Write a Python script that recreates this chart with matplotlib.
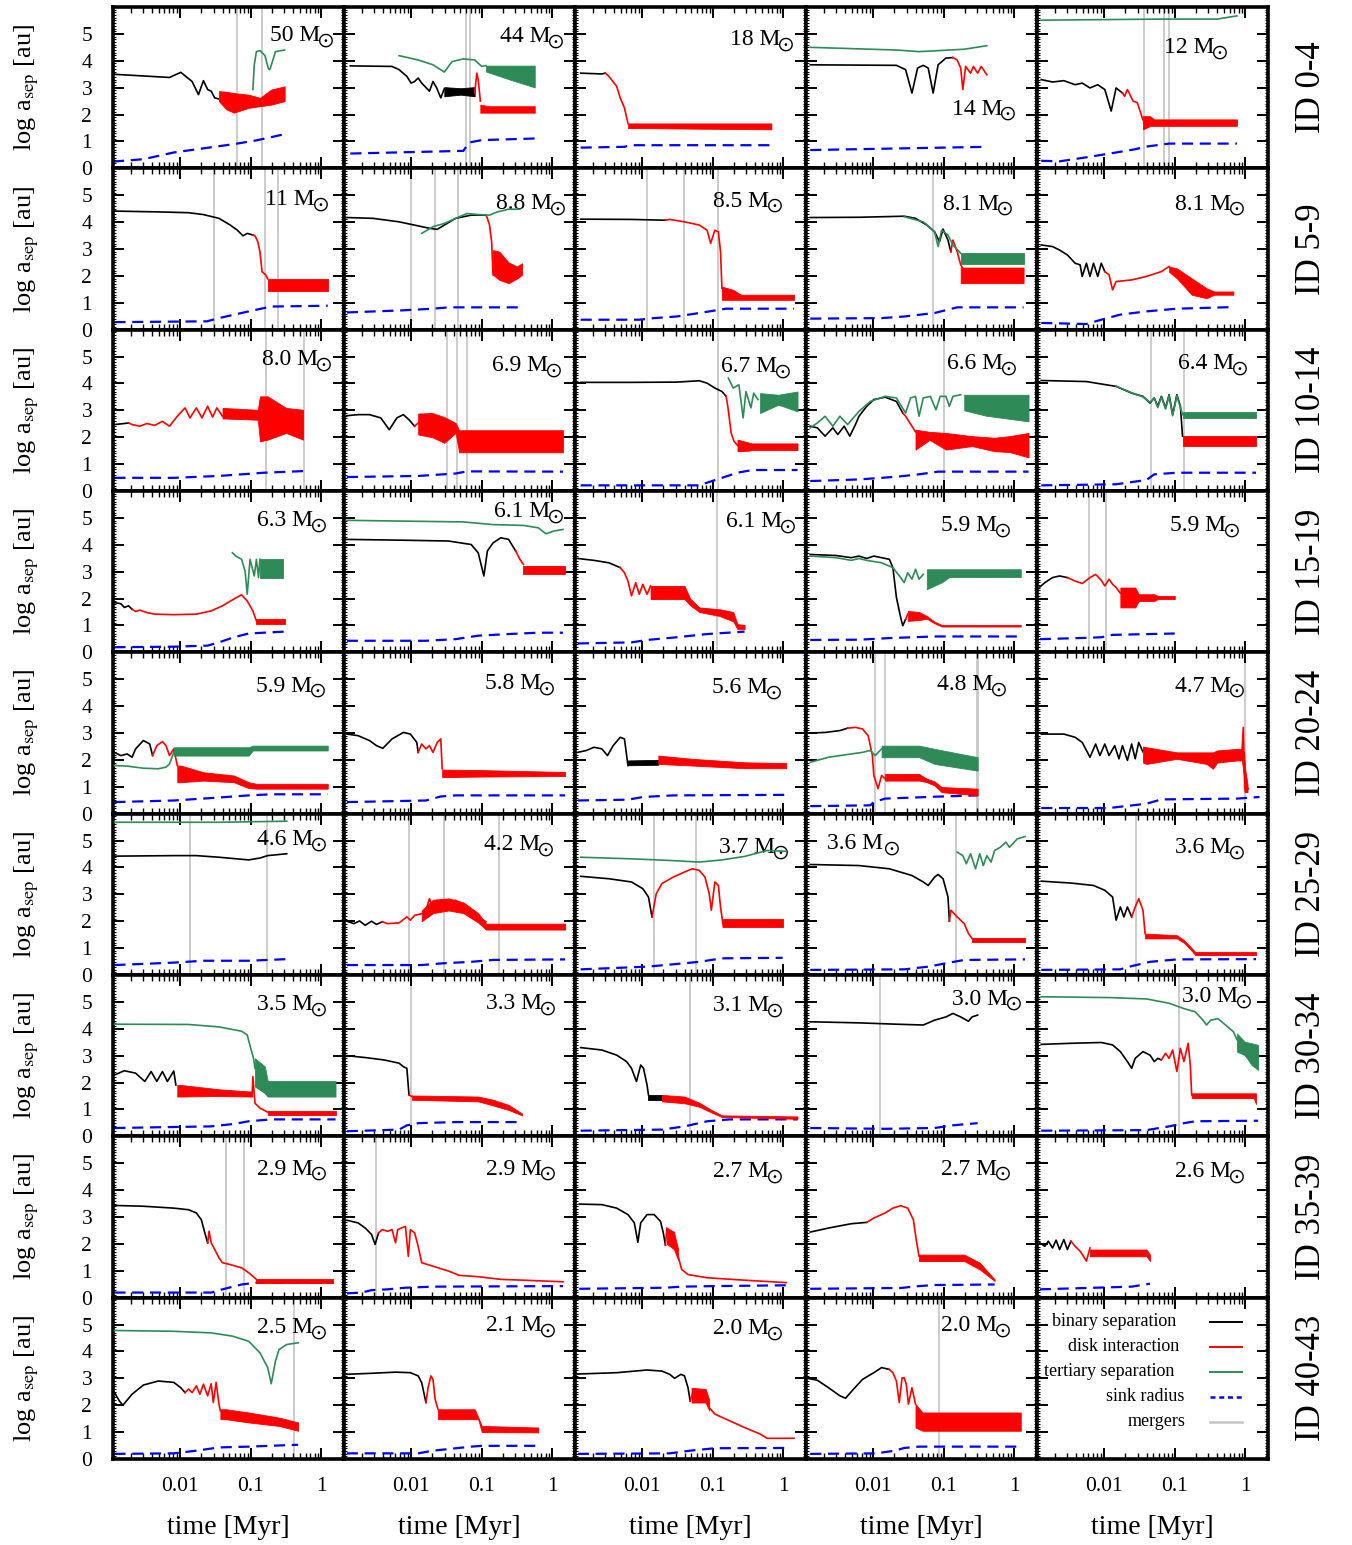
import numpy as np
import matplotlib
matplotlib.use('Agg')
import matplotlib.pyplot as plt
from matplotlib.ticker import FixedLocator, LogLocator, MultipleLocator, NullFormatter
from matplotlib.transforms import offset_copy

plt.rcParams['font.family'] = 'serif'
plt.rcParams['font.serif'] = ['Liberation Serif', 'DejaVu Serif']
plt.rcParams['mathtext.fontset'] = 'stix'

# all curves: (log10 time [Myr], log a_sep [au]); bands: (log10 time, low, high)
masses = ['50', '44', '18', '14', '12',
          '11', '8.8', '8.5', '8.1', '8.1',
          '8.0', '6.9', '6.7', '6.6', '6.4',
          '6.3', '6.1', '6.1', '5.9', '5.9',
          '5.9', '5.8', '5.6', '4.8', '4.7',
          '4.6', '4.2', '3.7', '3.6', '3.6',
          '3.5', '3.3', '3.1', '3.0', '3.0',
          '2.9', '2.9', '2.7', '2.7', '2.6',
          '2.5', '2.1', '2.0', '2.0']
row_ids = ['ID 0-4', 'ID 5-9', 'ID 10-14', 'ID 15-19', 'ID 20-24',
           'ID 25-29', 'ID 30-34', 'ID 35-39', 'ID 40-43']

binary_sep = [
    [(-2.95, 3.5), (-2.15, 3.38), (-1.99, 3.57), (-1.83, 3.23), (-1.74, 2.74), (-1.67, 3.26), (-1.61, 2.93), (-1.56, 2.87), (-1.51, 2.62), (-1.45, 2.58)],
    [(-2.86, 3.81), (-2.27, 3.79), (-2.17, 3.67), (-2.06, 3.42), (-2.0, 3.17), (-1.95, 3.23), (-1.9, 3.36), (-1.85, 3.17), (-1.74, 2.87), (-1.69, 3.23), (-1.64, 3.0), (-1.58, 2.62), (-1.53, 2.96)],
    [(-2.87, 3.54), (-2.57, 3.51), (-2.52, 3.54)],
    [(-2.89, 3.85), (-1.67, 3.83), (-1.54, 3.67), (-1.45, 2.8), (-1.37, 3.73), (-1.29, 3.83), (-1.22, 3.73), (-1.15, 2.8), (-1.08, 3.85), (-0.97, 4.1), (-0.87, 4.12)],
    [(-2.89, 3.3), (-2.73, 3.21), (-2.57, 3.26), (-2.41, 3.11), (-2.31, 3.17), (-2.2, 2.99), (-2.09, 3.11), (-1.99, 2.93), (-1.9, 2.13), (-1.83, 2.99), (-1.74, 2.8)],
    [(-2.93, 4.41), (-2.31, 4.38), (-1.88, 4.35), (-1.67, 4.28), (-1.45, 4.14), (-1.29, 3.89), (-1.19, 3.7), (-1.11, 3.49), (-1.05, 3.58), (-0.97, 3.52)],
    [(-2.91, 4.17), (-2.54, 4.14), (-2.17, 4.01), (-1.9, 3.86), (-1.74, 3.77), (-1.63, 3.73), (-1.53, 3.89), (-1.37, 4.14), (-1.15, 4.26), (-0.94, 4.26)],
    [(-2.87, 4.11), (-2.15, 4.1), (-1.67, 4.07)],
    [(-2.89, 4.17), (-2.2, 4.18), (-1.56, 4.22), (-1.4, 4.14), (-1.24, 3.89), (-1.13, 3.64), (-1.06, 3.27), (-1.01, 3.74), (-0.94, 3.33), (-0.9, 2.9)],
    [(-2.89, 3.15), (-2.73, 3.09), (-2.63, 2.96), (-2.52, 2.78), (-2.41, 2.47), (-2.34, 2.41), (-2.31, 1.98), (-2.25, 2.47), (-2.2, 1.98), (-2.15, 2.47), (-2.09, 1.98), (-2.04, 2.47), (-1.99, 2.16)],
    [(-2.93, 2.47), (-2.79, 2.51), (-2.73, 2.53)],
    [(-2.91, 2.8), (-2.75, 2.84), (-2.59, 2.84), (-2.43, 2.72), (-2.31, 2.28), (-2.2, 2.72), (-2.11, 2.84), (-2.03, 2.65), (-1.95, 2.41)],
    [(-2.87, 4.04), (-2.15, 4.04), (-1.51, 4.05), (-1.19, 4.1), (-1.08, 4.01), (-0.97, 3.83), (-0.87, 3.7), (-0.81, 3.52)],
    [(-2.89, 2.41), (-2.79, 2.35), (-2.68, 2.04), (-2.57, 2.35), (-2.5, 2.1), (-2.41, 2.41), (-2.33, 2.04), (-2.25, 2.47), (-2.2, 2.78), (-2.09, 3.15), (-1.99, 3.4), (-1.83, 3.49), (-1.67, 3.33), (-1.58, 2.9)],
    [(-2.89, 4.11), (-2.25, 4.07), (-1.83, 3.89), (-1.61, 3.64), (-1.45, 3.52), (-1.35, 3.27), (-1.29, 3.46), (-1.24, 3.15), (-1.19, 3.52), (-1.13, 3.09), (-1.08, 3.58), (-1.03, 2.84), (-0.97, 3.58), (-0.92, 3.15), (-0.89, 2.04)],
    [(-2.93, 1.85), (-2.84, 1.81), (-2.79, 1.67), (-2.73, 1.73), (-2.68, 1.6)],
    [(-2.91, 4.2), (-2.11, 4.17), (-1.47, 4.14), (-1.15, 4.01), (-1.05, 3.7), (-0.97, 2.84), (-0.92, 3.77), (-0.84, 4.07), (-0.73, 4.26), (-0.62, 4.2), (-0.52, 3.77)],
    [(-2.91, 3.49), (-2.68, 3.42), (-2.47, 3.33), (-2.31, 3.15)],
    [(-2.89, 3.64), (-2.52, 3.6), (-2.31, 3.52), (-2.2, 3.58), (-2.09, 3.49), (-1.99, 3.58), (-1.88, 3.52), (-1.77, 3.46), (-1.72, 3.15), (-1.67, 2.04), (-1.61, 1.3), (-1.58, 0.99), (-1.54, 1.23)],
    [(-2.91, 2.43), (-2.84, 2.59), (-2.73, 2.78), (-2.63, 2.84), (-2.52, 2.78)],
    [(-2.93, 2.28), (-2.84, 2.16), (-2.75, 2.22), (-2.68, 2.1), (-2.63, 2.41), (-2.52, 2.72), (-2.43, 2.59), (-2.39, 2.16)],
    [(-2.91, 2.96), (-2.75, 2.9), (-2.59, 2.72), (-2.49, 2.53), (-2.4, 2.43), (-2.27, 2.78), (-2.11, 3.02), (-2.01, 2.96), (-1.92, 2.65), (-1.9, 2.28)],
    [(-2.91, 2.28), (-2.79, 2.35), (-2.68, 2.47), (-2.57, 2.41), (-2.49, 2.16), (-2.41, 2.53), (-2.31, 2.84), (-2.25, 2.78), (-2.2, 1.79)],
    [(-2.89, 3.0), (-2.68, 3.02), (-2.47, 3.09), (-2.36, 3.18)],
    [(-2.89, 2.96), (-2.57, 2.96), (-2.41, 2.84), (-2.31, 2.65), (-2.2, 2.1), (-2.12, 2.59), (-2.06, 2.16), (-1.99, 2.59), (-1.93, 2.16), (-1.85, 2.53), (-1.79, 2.04), (-1.74, 2.53), (-1.67, 1.98), (-1.61, 2.59), (-1.56, 2.04), (-1.51, 2.65), (-1.45, 2.3)],
    [(-2.93, 4.42), (-2.09, 4.44), (-1.77, 4.44), (-1.45, 4.38), (-1.03, 4.28), (-0.87, 4.35), (-0.76, 4.44), (-0.49, 4.51)],
    [(-2.91, 2.0), (-2.81, 1.91), (-2.73, 2.01), (-2.65, 1.85), (-2.56, 2.0), (-2.49, 1.88), (-2.41, 1.98)],
    [(-2.87, 3.67), (-2.47, 3.58), (-2.15, 3.46), (-1.99, 3.21), (-1.91, 2.9), (-1.86, 2.16)],
    [(-2.89, 4.11), (-2.2, 4.07), (-1.77, 3.95), (-1.45, 3.7), (-1.29, 3.46), (-1.22, 3.33), (-1.13, 3.64), (-1.08, 3.74), (-1.01, 3.58), (-0.94, 2.9), (-0.92, 2.0)],
    [(-2.89, 3.49), (-2.47, 3.42), (-2.15, 3.33), (-1.99, 3.15), (-1.88, 2.9), (-1.83, 2.04), (-1.77, 2.53), (-1.72, 2.16), (-1.67, 2.53), (-1.61, 2.16)],
    [(-2.93, 2.28), (-2.79, 2.44), (-2.63, 2.35), (-2.5, 2.04), (-2.41, 2.41), (-2.33, 2.04), (-2.25, 2.41), (-2.18, 2.04), (-2.09, 2.43), (-2.06, 1.91)],
    [(-2.91, 3.0), (-2.65, 2.93), (-2.38, 2.84), (-2.17, 2.72), (-2.11, 2.59), (-2.06, 2.53), (-2.03, 1.54)],
    [(-2.87, 3.3), (-2.57, 3.21), (-2.36, 3.02), (-2.22, 2.78), (-2.15, 2.53), (-2.08, 2.04), (-2.02, 2.65), (-1.98, 2.53), (-1.93, 1.91), (-1.91, 1.54)],
    [(-2.89, 4.26), (-2.2, 4.22), (-1.67, 4.17), (-1.29, 4.14), (-1.13, 4.32), (-0.97, 4.44), (-0.87, 4.57), (-0.76, 4.44), (-0.65, 4.28), (-0.6, 4.44), (-0.52, 4.51)],
    [(-2.89, 3.42), (-2.47, 3.46), (-2.04, 3.49), (-1.88, 3.4), (-1.77, 3.15), (-1.67, 2.78), (-1.61, 2.53), (-1.56, 2.9), (-1.45, 3.15), (-1.35, 3.02), (-1.29, 2.78), (-1.24, 2.9), (-1.19, 2.84)],
    [(-2.93, 3.43), (-2.52, 3.4), (-2.09, 3.33), (-1.88, 3.27), (-1.77, 3.15), (-1.7, 2.9), (-1.65, 2.41), (-1.61, 2.04)],
    [(-2.91, 2.88), (-2.75, 2.78), (-2.65, 2.59), (-2.56, 2.35), (-2.51, 1.98), (-2.46, 2.41)],
    [(-2.89, 3.48), (-2.57, 3.46), (-2.36, 3.33), (-2.2, 3.09), (-2.11, 2.78), (-2.06, 2.06), (-2.02, 2.78), (-1.93, 3.09), (-1.83, 3.09), (-1.74, 2.84), (-1.7, 2.41), (-1.67, 1.95)],
    [(-2.89, 2.44), (-2.63, 2.59), (-2.31, 2.75), (-2.09, 2.8)],
    [(-2.91, 2.04), (-2.84, 1.91), (-2.79, 2.1), (-2.73, 1.85), (-2.68, 2.14), (-2.63, 1.79), (-2.57, 2.16), (-2.52, 1.79), (-2.47, 2.1)],
    [(-2.93, 2.47), (-2.86, 2.16), (-2.81, 2.0), (-2.68, 2.41), (-2.52, 2.75), (-2.31, 2.9), (-2.09, 2.85), (-1.99, 2.65), (-1.93, 2.47)],
    [(-2.91, 3.15), (-2.54, 3.19), (-2.22, 3.23), (-2.01, 3.21), (-1.9, 3.09), (-1.85, 2.84), (-1.79, 2.1)],
    [(-2.91, 3.16), (-2.36, 3.21), (-1.93, 3.31), (-1.72, 3.27), (-1.61, 3.15), (-1.54, 3.0), (-1.45, 3.15), (-1.4, 3.09), (-1.35, 2.65), (-1.32, 2.16)],
    [(-2.93, 3.0), (-2.79, 2.93), (-2.63, 2.65), (-2.47, 2.35), (-2.39, 2.26), (-2.28, 2.59), (-2.15, 2.96), (-1.99, 3.21), (-1.88, 3.4), (-1.77, 3.33)],
]

binary_band = {
    1: [[(-1.53, 2.68, 3.02), (-1.3, 2.74, 2.98), (-1.10, 2.68, 3.02)]],
    22: [[(-2.2, 1.8, 1.98), (-1.77, 1.82, 2.0)]],
    32: [[(-1.91, 1.34, 1.52), (-1.72, 1.34, 1.52)]],
}

disk_sep = {
    1: [(-1.10, 2.8), (-1.07, 3.54), (-1.05, 3.3), (-1.02, 2.5)],
    2: [(-2.52, 3.54), (-2.47, 3.42), (-2.36, 3.05), (-2.31, 2.62), (-2.25, 2.25), (-2.2, 1.67)],
    3: [(-0.87, 4.12), (-0.81, 4.03), (-0.76, 3.73), (-0.73, 2.93), (-0.69, 3.79), (-0.62, 3.54), (-0.58, 3.79), (-0.52, 3.54), (-0.47, 3.79), (-0.39, 3.48)],
    4: [(-1.74, 2.8), (-1.71, 2.68), (-1.67, 2.93), (-1.59, 2.5), (-1.53, 2.44), (-1.45, 1.8)],
    5: [(-0.97, 3.52), (-0.94, 3.49), (-0.9, 3.27), (-0.87, 2.9), (-0.84, 2.16), (-0.79, 2.04), (-0.76, 1.89)],
    6: [(-0.94, 4.26), (-0.92, 4.14), (-0.89, 3.89), (-0.86, 3.27), (-0.84, 2.04)],
    7: [(-1.67, 4.07), (-1.61, 4.1), (-1.4, 4.01), (-1.19, 3.89), (-1.08, 3.7), (-1.03, 3.21), (-0.97, 3.7), (-0.92, 3.64), (-0.89, 2.9), (-0.87, 1.54)],
    8: [(-0.9, 2.9), (-0.87, 3.33), (-0.81, 2.9), (-0.76, 2.41)],
    9: [(-1.99, 2.16), (-1.93, 2.04), (-1.88, 1.48), (-1.83, 1.79), (-1.61, 1.85), (-1.4, 1.98), (-1.19, 2.16), (-1.08, 2.35)],
    10: [(-2.73, 2.53), (-2.68, 2.47), (-2.57, 2.41), (-2.47, 2.51), (-2.36, 2.44), (-2.25, 2.59), (-2.15, 2.41), (-2.04, 2.78), (-1.93, 3.09), (-1.86, 2.72), (-1.77, 3.09), (-1.69, 2.72), (-1.61, 3.15), (-1.54, 2.75), (-1.48, 3.09), (-1.4, 2.78)],
    11: [(-1.95, 2.41), (-1.9, 2.53)],
    12: [(-0.81, 3.52), (-0.78, 3.02), (-0.74, 2.16), (-0.7, 1.85), (-0.65, 1.7)],
    13: [(-1.58, 2.9), (-1.54, 2.78), (-1.45, 2.41), (-1.4, 2.2)],
    15: [(-2.68, 1.6), (-2.63, 1.52), (-2.57, 1.57), (-2.47, 1.48), (-2.36, 1.42), (-2.09, 1.4), (-1.77, 1.42), (-1.56, 1.54), (-1.4, 1.73), (-1.24, 1.98), (-1.13, 2.14), (-1.05, 1.91), (-0.97, 1.54), (-0.92, 1.17)],
    16: [(-0.52, 3.77), (-0.46, 3.46), (-0.41, 3.27)],
    17: [(-2.31, 3.15), (-2.25, 2.96), (-2.2, 2.65), (-2.15, 2.1), (-2.09, 2.59), (-2.04, 2.16), (-1.99, 2.53), (-1.93, 2.16), (-1.88, 2.47)],
    18: [(-1.54, 1.23), (-1.51, 1.42)],
    19: [(-2.52, 2.78), (-2.41, 2.65), (-2.31, 2.56), (-2.2, 2.78), (-2.12, 2.9), (-2.04, 2.68), (-1.99, 2.47), (-1.93, 2.72), (-1.88, 2.53), (-1.83, 2.41), (-1.77, 2.2)],
    20: [(-2.39, 2.16), (-2.33, 2.53), (-2.25, 2.68), (-2.2, 2.53), (-2.15, 2.16), (-2.09, 2.41), (-2.04, 1.79)],
    21: [(-1.9, 2.28), (-1.85, 2.59), (-1.79, 2.41), (-1.74, 2.53), (-1.69, 2.28), (-1.63, 2.65), (-1.58, 2.78), (-1.56, 1.67)],
    23: [(-2.36, 3.18), (-2.25, 3.21), (-2.15, 3.15), (-2.07, 2.9), (-2.01, 2.16), (-1.99, 1.42), (-1.93, 0.93), (-1.88, 1.42), (-1.83, 1.3)],
    24: [(-0.05, 2.2), (-0.03, 3.21), (-0.02, 2.0), (-0.01, 1.0), (0.0, 0.8), (0.04, 0.93)],
    26: [(-2.41, 1.98), (-2.33, 1.91), (-2.17, 1.94), (-2.06, 2.16), (-2.01, 2.04), (-1.95, 2.22), (-1.85, 2.28), (-1.79, 2.41), (-1.74, 2.84), (-1.69, 2.47), (-1.63, 2.65), (-1.58, 2.72), (-1.47, 2.72), (-1.37, 2.78), (-1.26, 2.59), (-1.15, 2.41), (-1.05, 2.16), (-0.94, 1.98)],
    27: [(-1.86, 2.16), (-1.8, 3.02), (-1.72, 3.4), (-1.56, 3.64), (-1.4, 3.83), (-1.29, 3.95), (-1.19, 3.89), (-1.11, 3.64), (-1.05, 3.02), (-1.02, 2.41), (-0.97, 3.46), (-0.92, 3.33), (-0.89, 2.53), (-0.85, 1.79)],
    28: [(-0.92, 2.0), (-0.9, 2.41), (-0.81, 2.16), (-0.71, 1.91), (-0.65, 1.54), (-0.6, 1.36)],
    29: [(-1.61, 2.16), (-1.56, 2.53), (-1.51, 2.84), (-1.45, 2.41), (-1.42, 1.54)],
    30: [(-0.98, 1.55), (-0.97, 2.22), (-0.94, 1.23), (-0.87, 1.05), (-0.76, 0.9)],
    31: [(-2.03, 1.54), (-1.99, 1.48)],
    34: [(-1.19, 2.84), (-1.13, 3.09), (-1.08, 2.9), (-1.03, 3.21), (-0.97, 2.41), (-0.92, 3.27), (-0.87, 2.78), (-0.81, 3.46), (-0.78, 2.65), (-0.76, 1.54)],
    35: [(-1.61, 2.04), (-1.59, 2.47), (-1.56, 2.04), (-1.51, 1.79), (-1.45, 1.48), (-1.4, 1.3), (-1.29, 1.23), (-1.13, 1.11), (-1.03, 0.93), (-0.92, 0.68)],
    36: [(-2.46, 2.41), (-2.41, 2.53), (-2.33, 2.47), (-2.27, 2.53), (-2.22, 2.04), (-2.19, 2.53), (-2.14, 2.59), (-2.08, 2.65), (-2.04, 1.54), (-2.01, 2.53), (-1.95, 2.41), (-1.9, 1.91), (-1.85, 1.3), (-1.69, 1.17), (-1.47, 0.99), (-1.32, 0.83), (-1.05, 0.78), (-0.73, 0.68), (-0.41, 0.65), (0.15, 0.59)],
    37: [(-1.67, 1.95), (-1.65, 2.59), (-1.59, 2.41), (-1.53, 2.04), (-1.49, 1.54), (-1.44, 1.05), (-1.35, 0.86), (-1.08, 0.74), (-0.55, 0.65), (0.04, 0.56)],
    38: [(-2.09, 2.8), (-1.99, 2.96), (-1.83, 3.15), (-1.72, 3.33), (-1.61, 3.42), (-1.51, 3.33), (-1.43, 2.9), (-1.39, 2.16), (-1.35, 1.54)],
    39: [(-2.47, 2.1), (-2.41, 1.91), (-2.34, 1.73), (-2.25, 1.36), (-2.2, 1.85)],
    40: [(-1.93, 2.47), (-1.88, 2.6), (-1.83, 2.47), (-1.77, 2.72), (-1.72, 2.41), (-1.67, 2.78), (-1.61, 2.35), (-1.56, 2.8), (-1.53, 2.1), (-1.49, 2.85), (-1.45, 2.04), (-1.43, 1.79)],
    41: [(-1.79, 2.1), (-1.76, 2.65), (-1.72, 3.09), (-1.69, 2.96), (-1.66, 2.22), (-1.62, 1.85)],
    42: [(-1.32, 2.16), (-1.27, 2.59), (-1.19, 2.47), (-1.08, 2.35), (-1.05, 1.91), (-0.97, 1.67), (-0.76, 1.42), (-0.55, 1.17), (-0.33, 0.93), (-0.23, 0.77), (0.15, 0.77)],
    43: [(-1.77, 3.33), (-1.72, 3.21), (-1.67, 2.9), (-1.63, 2.1), (-1.59, 3.02), (-1.56, 3.02), (-1.53, 2.78), (-1.5, 2.04), (-1.45, 2.65), (-1.4, 2.04)],
}

disk_band = {
    0: [[(-1.45, 2.5, 2.87), (-1.35, 2.2, 2.85), (-1.24, 2.07, 2.8), (-1.03, 2.25, 2.74), (-0.87, 2.31, 2.62), (-0.71, 2.37, 2.93), (-0.52, 2.5, 3.05)]],
    1: [[(-1.02, 2.07, 2.37), (-0.9, 2.07, 2.31), (-0.25, 2.07, 2.31)]],
    2: [[(-2.2, 1.5, 1.67), (-0.17, 1.45, 1.67)]],
    4: [[(-1.45, 1.45, 1.94), (-1.35, 1.57, 1.94), (-1.29, 1.58, 1.82), (-0.12, 1.58, 1.82)]],
    5: [[(-0.76, 1.44, 1.89), (0.09, 1.44, 1.89)]],
    6: [[(-0.84, 2.04, 2.96), (-0.75, 1.85, 2.9), (-0.62, 1.73, 2.5), (-0.5, 1.9, 2.35), (-0.43, 2.04, 2.47)]],
    7: [[(-0.87, 1.11, 1.6), (-0.71, 1.11, 1.48), (-0.6, 1.11, 1.3), (0.15, 1.11, 1.3)]],
    8: [[(-0.76, 1.73, 2.41), (-0.73, 1.73, 2.31), (0.13, 1.73, 2.31)]],
    9: [[(-1.08, 2.15, 2.35), (-0.97, 1.91, 2.28), (-0.76, 1.3, 1.91), (-0.55, 1.17, 1.54), (-0.44, 1.3, 1.42), (-0.17, 1.3, 1.42)]],
    10: [[(-1.4, 2.7, 3.09), (-0.9, 2.65, 3.02), (-0.87, 1.85, 3.52), (-0.76, 1.91, 3.52), (-0.5, 2.16, 3.09), (-0.26, 1.91, 3.02)]],
    11: [[(-1.9, 2.1, 2.88), (-1.7, 2.0, 2.9), (-1.53, 1.79, 2.75), (-1.37, 2.16, 2.53), (-1.32, 1.44, 2.26), (0.15, 1.44, 2.26)]],
    12: [[(-0.65, 1.48, 1.91), (-0.49, 1.5, 1.8), (-0.44, 1.52, 1.77), (0.2, 1.52, 1.77)]],
    13: [[(-1.4, 1.54, 2.28), (-1.2, 1.9, 2.2), (-0.97, 1.54, 2.16), (-0.6, 1.67, 2.04), (-0.28, 1.48, 1.98), (-0.07, 1.45, 2.04), (0.2, 1.25, 2.16)]],
    14: [[(-0.89, 1.67, 2.04), (0.15, 1.67, 2.04)]],
    15: [[(-0.92, 1.05, 1.23), (-0.52, 1.05, 1.23)]],
    16: [[(-0.41, 2.93, 3.21), (0.18, 2.93, 3.21)]],
    17: [[(-1.88, 1.98, 2.47), (-1.4, 1.98, 2.47), (-1.32, 1.75, 2.0), (-1.19, 1.5, 1.67), (-0.9, 1.35, 1.6), (-0.71, 1.15, 1.5), (-0.65, 0.86, 1.05), (-0.55, 0.86, 1.02)]],
    18: [[(-1.51, 1.17, 1.54), (-1.35, 1.2, 1.5), (-1.24, 1.25, 1.35), (-1.13, 1.08, 1.14), (-1.03, 0.96, 1.02), (0.09, 0.96, 1.02)]],
    19: [[(-1.77, 1.67, 2.41), (-1.56, 1.67, 2.41), (-1.51, 1.91, 2.16), (-1.29, 1.91, 2.16), (-1.24, 1.98, 2.1), (-1.0, 1.98, 2.1)]],
    20: [[(-2.04, 1.17, 1.79), (-1.99, 1.17, 1.79), (-1.67, 1.23, 1.54), (-1.24, 1.17, 1.42), (-1.03, 0.95, 1.17), (-0.92, 0.93, 1.11), (0.09, 0.93, 1.11)]],
    21: [[(-1.56, 1.36, 1.64), (-1.0, 1.38, 1.62), (0.18, 1.4, 1.55)]],
    22: [[(-1.77, 1.85, 2.16), (-1.29, 1.79, 2.04), (-0.55, 1.69, 1.91), (0.04, 1.69, 1.88)]],
    23: [[(-1.83, 1.23, 1.48), (-1.35, 1.23, 1.48), (-1.24, 1.17, 1.3), (-1.13, 1.05, 1.2), (-1.03, 0.8, 0.99), (-0.52, 0.68, 0.93)]],
    24: [[(-1.45, 1.9, 2.5), (-1.4, 1.85, 2.47), (-0.97, 2.04, 2.28), (-0.55, 1.85, 2.28), (-0.46, 1.67, 2.28), (-0.4, 1.9, 2.35), (-0.12, 1.98, 2.41), (-0.05, 1.98, 2.41), (-0.02, 1.4, 2.3), (0.0, 0.8, 1.6), (0.03, 0.8, 1.1)]],
    26: [[(-1.85, 2.0, 2.4), (-1.69, 2.3, 2.8), (-1.47, 2.4, 2.85), (-1.26, 2.3, 2.7), (-1.05, 1.95, 2.3), (-0.94, 1.69, 1.91), (0.18, 1.69, 1.91)]],
    27: [[(-0.85, 1.79, 2.1), (-0.01, 1.79, 2.1)]],
    28: [[(-0.6, 1.23, 1.36), (0.15, 1.23, 1.36)]],
    29: [[(-1.42, 1.36, 1.54), (-0.97, 1.36, 1.48), (-0.87, 1.2, 1.3), (-0.76, 0.9, 1.0), (-0.71, 0.74, 0.86), (0.15, 0.74, 0.86)]],
    30: [[(-2.04, 1.48, 1.91), (-1.99, 1.48, 1.91), (-1.45, 1.5, 1.75), (-1.03, 1.48, 1.67), (-0.98, 1.48, 1.67)],
         [(-0.76, 0.78, 0.95), (0.2, 0.78, 0.95)]],
    31: [[(-1.99, 1.36, 1.52), (-1.05, 1.3, 1.48), (-0.84, 1.15, 1.36), (-0.62, 0.98, 1.17), (-0.43, 0.78, 0.85)]],
    32: [[(-1.72, 1.3, 1.54), (-1.4, 1.23, 1.48), (-1.19, 1.1, 1.25), (-1.03, 0.9, 1.0), (-0.87, 0.72, 0.78), (0.2, 0.65, 0.74)]],
    34: [[(-0.76, 1.42, 1.6), (0.12, 1.42, 1.6), (0.15, 1.2, 1.6)]],
    35: [[(-0.92, 0.56, 0.68), (0.17, 0.56, 0.68)]],
    37: [[(-1.65, 2.0, 2.6), (-1.55, 1.8, 2.45), (-1.49, 1.4, 1.8)]],
    38: [[(-1.35, 1.36, 1.6), (-0.71, 1.36, 1.6), (-0.49, 1.05, 1.3), (-0.28, 0.62, 0.68)]],
    39: [[(-2.2, 1.54, 1.79), (-1.4, 1.54, 1.79), (-1.35, 1.36, 1.6)]],
    40: [[(-1.43, 1.48, 1.85), (-1.35, 1.48, 1.85), (-1.03, 1.36, 1.73), (-0.6, 1.23, 1.54), (-0.33, 1.05, 1.36)]],
    41: [[(-1.62, 1.48, 1.85), (-1.1, 1.48, 1.85), (-1.05, 1.48, 1.55), (-1.0, 1.0, 1.23), (-0.2, 0.99, 1.17)]],
    42: [[(-1.3, 2.1, 2.65), (-1.1, 2.1, 2.6), (-1.05, 1.8, 2.2)]],
    43: [[(-1.4, 1.17, 2.04), (-1.3, 1.05, 1.73), (0.09, 1.05, 1.73)]],
}

tertiary_sep = {
    0: [(-0.97, 2.93), (-0.95, 3.85), (-0.92, 4.34), (-0.87, 4.38), (-0.8, 4.2), (-0.75, 3.7), (-0.73, 3.67), (-0.69, 4.0), (-0.65, 4.34), (-0.52, 4.4)],
    1: [(-2.17, 4.19), (-1.9, 4.03), (-1.69, 3.85), (-1.53, 3.58), (-1.42, 3.97), (-1.26, 4.07), (-1.10, 4.03), (-1.0, 3.79), (-0.94, 3.82)],
    3: [(-2.89, 4.5), (-1.67, 4.4), (-1.35, 4.34), (-1.13, 4.37), (-0.71, 4.43), (-0.39, 4.56)],
    4: [(-2.89, 5.51), (-1.2, 5.55), (-0.4, 5.55), (-0.12, 5.67)],
    6: [(-1.85, 3.58), (-1.69, 3.83), (-1.53, 3.95), (-1.37, 4.14), (-1.21, 4.32), (-1.05, 4.28), (-0.89, 4.26), (-0.78, 4.38), (-0.62, 4.48), (-0.46, 4.48)],
    8: [(-1.56, 4.2), (-1.29, 4.01), (-1.13, 3.64), (-1.08, 3.09), (-1.03, 3.7), (-0.94, 3.52), (-0.87, 3.15), (-0.76, 2.84)],
    12: [(-0.78, 4.2), (-0.71, 3.83), (-0.63, 3.95), (-0.57, 2.72), (-0.53, 3.7), (-0.46, 3.09), (-0.42, 3.64), (-0.36, 3.4)],
    13: [(-2.89, 2.35), (-2.79, 2.53), (-2.68, 2.78), (-2.57, 2.41), (-2.47, 2.78), (-2.36, 2.47), (-2.28, 2.72), (-2.2, 2.96), (-2.04, 3.33), (-1.83, 3.52), (-1.67, 3.46), (-1.54, 2.9), (-1.47, 3.46), (-1.4, 3.52), (-1.35, 2.78), (-1.29, 3.46), (-1.19, 3.52), (-1.11, 3.02), (-1.05, 3.52), (-0.97, 3.52), (-0.92, 3.15), (-0.87, 3.52), (-0.76, 3.58)],
    14: [(-1.83, 3.9), (-1.61, 3.65), (-1.45, 3.5), (-1.35, 3.3), (-1.29, 3.45), (-1.24, 3.1), (-1.19, 3.5), (-1.13, 3.05), (-1.08, 3.55), (-1.03, 2.8), (-0.97, 3.55), (-0.92, 3.1), (-0.89, 2.84)],
    15: [(-1.26, 3.7), (-1.21, 3.58), (-1.13, 3.46), (-1.08, 3.02), (-1.05, 2.16), (-1.01, 3.46), (-0.95, 2.84), (-0.92, 3.46), (-0.89, 2.78), (-0.87, 3.46)],
    16: [(-2.91, 4.91), (-2.11, 4.88), (-1.26, 4.85), (-0.84, 4.75), (-0.41, 4.72), (-0.2, 4.63), (-0.09, 4.41), (0.02, 4.51), (0.15, 4.57)],
    18: [(-2.89, 3.58), (-2.52, 3.52), (-2.31, 3.42), (-2.2, 3.49), (-2.09, 3.42), (-1.88, 3.33), (-1.72, 3.15), (-1.61, 2.78), (-1.56, 2.59), (-1.51, 2.96), (-1.45, 2.72), (-1.4, 3.09), (-1.35, 2.72), (-1.29, 2.9)],
    20: [(-2.93, 1.79), (-2.75, 1.77), (-2.52, 1.69), (-2.31, 1.67), (-2.2, 1.73), (-2.15, 1.85), (-2.09, 2.28)],
    23: [(-2.89, 1.91), (-2.63, 2.1), (-2.31, 2.22), (-2.15, 2.28), (-2.04, 2.35), (-1.97, 2.16), (-1.88, 2.41)],
    25: [(-2.93, 5.68), (-1.45, 5.68), (-0.49, 5.72)],
    27: [(-2.87, 4.38), (-2.15, 4.32), (-1.61, 4.26), (-1.19, 4.2), (-0.87, 4.28), (-0.55, 4.41), (-0.23, 4.63), (0.04, 4.6)],
    28: [(-0.81, 4.57), (-0.73, 4.44), (-0.68, 4.14), (-0.62, 4.51), (-0.55, 3.95), (-0.49, 4.51), (-0.44, 4.07), (-0.39, 4.44), (-0.33, 4.2), (-0.28, 4.63), (-0.2, 4.75), (-0.12, 4.94), (-0.07, 4.75), (0.04, 5.06), (0.15, 5.15)],
    30: [(-2.93, 4.17), (-1.88, 4.16), (-1.45, 4.07), (-1.13, 3.91), (-1.05, 3.77), (-1.0, 3.27), (-0.96, 2.9), (-0.94, 2.53)],
    34: [(-2.89, 5.19), (-1.93, 5.16), (-1.4, 5.11), (-1.08, 4.95), (-0.87, 4.75), (-0.71, 4.63), (-0.6, 4.32), (-0.55, 4.14), (-0.49, 4.32), (-0.39, 4.38), (-0.28, 4.14), (-0.17, 3.89), (-0.12, 3.6)],
    40: [(-2.93, 4.78), (-2.09, 4.75), (-1.56, 4.69), (-1.26, 4.57), (-1.03, 4.38), (-0.87, 3.95), (-0.76, 3.4), (-0.71, 2.8), (-0.65, 3.64), (-0.6, 4.07), (-0.49, 4.26), (-0.33, 4.32)],
}

tertiary_band = {
    1: [[(-0.94, 3.6, 3.82), (-0.6, 3.3, 3.82), (-0.25, 3.01, 3.82)]],
    8: [[(-0.76, 2.43, 2.84), (0.13, 2.43, 2.84)]],
    12: [[(-0.33, 2.9, 3.64), (-0.07, 3.21, 3.58), (0.2, 2.96, 3.7)]],
    13: [[(-0.71, 3.0, 3.58), (-0.4, 2.8, 3.58), (0.2, 2.59, 3.58)]],
    14: [[(-0.89, 2.72, 2.93), (0.15, 2.72, 2.93)]],
    15: [[(-0.87, 2.78, 3.46), (-0.55, 2.78, 3.46)]],
    18: [[(-1.24, 2.35, 3.09), (-1.03, 2.6, 3.09), (-0.92, 2.8, 3.09), (0.09, 2.8, 3.09)]],
    20: [[(-2.09, 2.16, 2.47), (-1.03, 2.16, 2.47), (-0.97, 2.35, 2.53), (0.09, 2.35, 2.53)]],
    23: [[(-1.88, 2.1, 2.53), (-1.35, 2.1, 2.53), (-1.13, 1.85, 2.41), (-0.52, 1.6, 2.1)]],
    30: [[(-0.94, 1.85, 2.9), (-0.8, 1.6, 2.6), (-0.76, 1.48, 2.06), (0.2, 1.48, 2.06)]],
    34: [[(-0.12, 3.15, 3.83), (-0.01, 3.02, 3.52), (0.09, 2.65, 3.46), (0.18, 2.47, 3.4)]],
}

sink_radius = [
    [(-2.95, 0.25), (-2.52, 0.34), (-2.09, 0.59), (-1.24, 0.9), (-0.92, 1.04), (-0.52, 1.27)],
    [(-2.86, 0.55), (-1.26, 0.65), (-1.18, 0.96), (-1.0, 1.05), (-0.25, 1.11)],
    [(-2.87, 0.77), (-2.25, 0.8), (-2.17, 0.86), (-0.17, 0.86)],
    [(-2.89, 0.68), (-0.39, 0.8)],
    [(-2.89, 0.28), (-2.63, 0.26), (-2.25, 0.41), (-1.83, 0.59), (-1.56, 0.71), (-1.4, 0.81), (-1.08, 0.92), (-0.12, 0.92)],
    [(-2.93, 0.28), (-1.62, 0.31), (-1.45, 0.43), (-1.03, 0.68), (-0.71, 0.86), (0.09, 0.89)],
    [(-2.91, 0.64), (-2.11, 0.72), (-1.69, 0.78), (-1.47, 0.83), (-0.46, 0.83)],
    [(-2.87, 0.37), (-2.04, 0.37), (-1.83, 0.43), (-1.51, 0.49), (-1.19, 0.62), (-0.81, 0.78), (0.15, 0.78)],
    [(-2.89, 0.41), (-1.88, 0.43), (-1.56, 0.49), (-1.13, 0.62), (-0.81, 0.83), (0.13, 0.83)],
    [(-2.89, 0.25), (-2.25, 0.21), (-2.04, 0.37), (-1.77, 0.56), (-1.4, 0.68), (-0.97, 0.78), (-0.17, 0.84)],
    [(-2.93, 0.49), (-2.09, 0.49), (-1.45, 0.56), (-0.81, 0.68), (-0.26, 0.74)],
    [(-2.91, 0.52), (-1.9, 0.56), (-1.37, 0.65), (-1.21, 0.73), (0.15, 0.72)],
    [(-2.87, 0.21), (-1.19, 0.21), (-1.08, 0.31), (-0.87, 0.49), (-0.65, 0.68), (-0.44, 0.78), (0.2, 0.78)],
    [(-2.89, 0.37), (-2.2, 0.43), (-1.67, 0.53), (-1.35, 0.62), (-1.08, 0.72), (0.2, 0.72)],
    [(-2.89, 0.21), (-1.83, 0.25), (-1.4, 0.41), (-1.29, 0.62), (-0.97, 0.68), (0.15, 0.68)],
    [(-2.93, 0.19), (-2.09, 0.21), (-1.61, 0.25), (-1.45, 0.37), (-1.24, 0.56), (-1.03, 0.7), (-0.52, 0.77)],
    [(-2.91, 0.43), (-1.79, 0.43), (-1.37, 0.49), (-1.05, 0.62), (-0.62, 0.68), (-0.2, 0.73), (0.15, 0.73)],
    [(-2.91, 0.33), (-2.15, 0.37), (-1.93, 0.46), (-1.51, 0.56), (-1.08, 0.68), (-0.55, 0.77)],
    [(-2.89, 0.46), (-2.2, 0.47), (-1.77, 0.53), (-1.13, 0.59), (0.09, 0.59)],
    [(-2.91, 0.49), (-2.36, 0.53), (-2.04, 0.56), (-1.88, 0.65), (-1.0, 0.7)],
    [(-2.93, 0.43), (-2.09, 0.49), (-1.56, 0.58), (-1.03, 0.68), (-0.71, 0.72), (0.09, 0.72)],
    [(-2.91, 0.43), (-1.79, 0.49), (-1.58, 0.64), (-1.37, 0.68), (0.18, 0.68)],
    [(-2.91, 0.49), (-2.2, 0.52), (-1.99, 0.62), (-1.56, 0.68), (0.04, 0.7)],
    [(-2.89, 0.28), (-2.04, 0.31), (-1.99, 0.43), (-1.83, 0.56), (-1.13, 0.63), (-0.52, 0.68)],
    [(-2.89, 0.21), (-1.93, 0.21), (-1.4, 0.37), (-1.19, 0.53), (-0.12, 0.56), (0.2, 0.62)],
    [(-2.93, 0.37), (-2.09, 0.46), (-1.67, 0.53), (-1.03, 0.53), (-0.49, 0.59)],
    [(-2.91, 0.37), (-1.85, 0.37), (-1.58, 0.43), (-1.15, 0.49), (-0.84, 0.56), (0.18, 0.58)],
    [(-2.87, 0.21), (-1.93, 0.31), (-1.51, 0.41), (-1.19, 0.49), (-0.87, 0.62), (-0.01, 0.64)],
    [(-2.89, 0.19), (-1.56, 0.21), (-1.22, 0.31), (-0.92, 0.46), (-0.71, 0.56), (0.15, 0.58)],
    [(-2.89, 0.19), (-1.77, 0.21), (-1.61, 0.33), (-1.35, 0.49), (-0.97, 0.58), (0.15, 0.59)],
    [(-2.93, 0.31), (-1.56, 0.37), (-1.24, 0.46), (-1.03, 0.56), (-0.71, 0.63), (0.2, 0.63)],
    [(-2.91, 0.19), (-2.17, 0.25), (-2.06, 0.41), (-1.9, 0.49), (-1.37, 0.53), (-0.43, 0.53)],
    [(-2.87, 0.21), (-1.72, 0.25), (-1.4, 0.37), (-1.08, 0.56), (-0.76, 0.63), (0.2, 0.63)],
    [(-2.89, 0.31), (-1.83, 0.28), (-1.13, 0.31), (-0.87, 0.41), (-0.52, 0.49)],
    [(-2.89, 0.21), (-1.4, 0.23), (-1.08, 0.37), (-0.87, 0.49), (-0.71, 0.56), (0.18, 0.58)],
    [(-2.93, 0.19), (-1.56, 0.19), (-1.4, 0.31), (-1.13, 0.49), (-0.92, 0.56), (0.17, 0.56)],
    [(-2.91, 0.16), (-2.7, 0.19), (-2.56, 0.28), (-2.33, 0.31), (-2.08, 0.37), (-1.69, 0.41), (0.15, 0.43)],
    [(-2.89, 0.33), (-1.67, 0.37), (-1.44, 0.41), (-0.97, 0.43), (0.04, 0.46)],
    [(-2.89, 0.33), (-1.61, 0.36), (-1.35, 0.43), (-1.13, 0.47), (-0.28, 0.49)],
    [(-2.91, 0.31), (-2.25, 0.36), (-1.61, 0.41), (-1.35, 0.52)],
    [(-2.93, 0.19), (-2.09, 0.21), (-1.77, 0.31), (-1.45, 0.43), (-1.03, 0.46), (-0.33, 0.53)],
    [(-2.91, 0.21), (-1.9, 0.21), (-1.69, 0.31), (-1.47, 0.37), (-1.15, 0.46), (-1.0, 0.49), (-0.2, 0.49)],
    [(-2.91, 0.19), (-1.61, 0.21), (-1.32, 0.31), (-0.97, 0.4), (0.04, 0.41)],
    [(-2.89, 0.19), (-1.96, 0.21), (-1.69, 0.31), (-1.56, 0.41), (-1.35, 0.46), (0.09, 0.46)],
]

mergers = {
    0: [-1.2, -0.84], 1: [-1.22, -1.17], 4: [-1.43, -1.15, -1.08],
    5: [-1.52, -0.8, -0.62], 6: [-2.0, -1.66, -1.33], 7: [-1.93, -1.41, -0.92], 8: [-1.15],
    10: [-0.78, -0.24], 11: [-1.49, -1.35, -1.21], 12: [-0.92], 13: [-1.0], 14: [-1.34, -0.87],
    17: [-0.94], 19: [-2.21, -1.97], 23: [-1.97, -1.83, -0.53, -0.51], 24: [0.0],
    25: [-1.86, -0.77], 26: [-2.03, -1.53, -0.76], 27: [-1.83, -1.24], 28: [-0.83], 29: [-1.55],
    31: [-2.0], 32: [-1.32], 33: [-1.9], 34: [-0.94],
    35: [-1.35, -1.1], 36: [-2.49], 40: [-0.39], 43: [-1.07],
}

# mass label layout: vertical centre (data units), inset from right edge (px);
# a negative inset means the label sits at the left edge instead
label_y = [4.93, 4.9, 4.8, 2.2, 4.5, 4.85, 4.7, 4.78, 4.67, 4.67,
           4.89, 4.67, 4.63, 4.74, 4.74, 4.89, 5.22, 4.85, 4.7, 4.7,
           4.74, 4.85, 4.7, 4.8, 4.74, 5.04, 4.85, 4.74, 4.89, 4.74,
           4.89, 4.93, 4.85, 5.1, 5.2, 4.78, 4.78, 4.7, 4.78, 4.7,
           4.89, 4.96, 4.85, 4.96]
label_inset = [10, 11, 12, 21, 40, 15, 9, 23, 24, 23,
               12, 13, 15, 20, 20, 17, 11, 10, 26, 28,
               18, 20, 24, 30, 23, 17, 21, 17, -21, 23,
               17, 19, 23, 15, 16, 17, 19, 23, 26, 23,
               17, 19, 23, 26]

BLACK, RED, GREEN, BLUE, GREY = 'black', '#ff0000', '#2e8b57', '#0000ff', '#c4c4c4'
W, H = 1352, 1545
SUN_W = 14  # px taken by the solar symbol


def draw_line(ax, pts, color, z, lw=1.2, **kw):
    if not pts:
        return
    lt, y = zip(*pts)
    ax.plot(10 ** np.array(lt), y, color=color, lw=lw, zorder=z, **kw)


def draw_band(ax, segs, color, z):
    for seg in segs:
        lt, lo, hi = zip(*seg)
        ax.fill_between(10 ** np.array(lt), lo, hi, color=color, lw=0.6, zorder=z)


def mass_label(ax, text, y, inset):
    tr = ax.get_yaxis_transform()
    if inset < 0:
        t = ax.text(-inset / 231, y, text + ' M', transform=tr, ha='left', va='center', fontsize=17)
        width = t.get_window_extent(renderer=fig.canvas.get_renderer()).width
        ax.text(-inset / 231, y - 0.2, r'$\odot$', ha='left', va='center', fontsize=15,
                transform=offset_copy(tr, fig=fig, x=width, units='dots'))
    else:
        x0 = 1 - inset / 231
        ax.text(x0, y - 0.2, r'$\odot$', transform=tr, ha='right', va='center', fontsize=15)
        ax.text(x0, y, text + ' M', ha='right', va='center', fontsize=17,
                transform=offset_copy(tr, fig=fig, x=-SUN_W, units='dots'))


fig, axes = plt.subplots(9, 5, figsize=(W / 100, H / 100), dpi=100,
                         sharex=True, sharey=True,
                         gridspec_kw=dict(wspace=0, hspace=0))
fig.subplots_adjust(left=113 / W, right=1268 / W, top=1 - 7 / H, bottom=1 - 1459 / H)

for k, ax in enumerate(axes.flat):
    ax.set_xscale('log')
    ax.set_xlim(10 ** -2.95, 10 ** 0.32)
    ax.set_ylim(0, 6)
    ax.xaxis.set_major_locator(FixedLocator([0.01, 0.1, 1]))
    ax.xaxis.set_minor_locator(LogLocator(base=10, subs=np.arange(2, 10)))
    ax.xaxis.set_minor_formatter(NullFormatter())
    ax.set_xticklabels(['0.01', '0.1', '1'])
    ax.yaxis.set_major_locator(FixedLocator([0, 1, 2, 3, 4, 5]))
    ax.yaxis.set_minor_locator(MultipleLocator(0.1))
    ax.tick_params(which='both', direction='in', top=True, right=True, labelsize=15.5)
    ax.tick_params(which='major', length=8, width=1.4)
    ax.xaxis.set_tick_params(which='minor', length=4, width=1.0)
    ax.yaxis.set_tick_params(which='minor', length=2.5, width=0.8)
    ax.tick_params(axis='y', pad=15)
    ax.tick_params(axis='x', pad=13)
    for sp in ax.spines.values():
        sp.set_linewidth(2.6)
    ax.label_outer()

    if k >= 44:
        continue
    for lt in mergers.get(k, []):
        ax.axvline(10 ** lt, color=GREY, lw=1.2, zorder=1)
    draw_line(ax, sink_radius[k], BLUE, 2, lw=1.6, ls=(0, (5, 3)))
    draw_line(ax, binary_sep[k], BLACK, 3)
    draw_band(ax, binary_band.get(k, []), BLACK, 3)
    draw_line(ax, disk_sep.get(k, []), RED, 4)
    draw_band(ax, disk_band.get(k, []), RED, 4)
    draw_line(ax, tertiary_sep.get(k, []), GREEN, 5)
    draw_band(ax, tertiary_band.get(k, []), GREEN, 5)
    mass_label(ax, masses[k], label_y[k], label_inset[k])

# legend panel
leg = axes.flat[44]
leg_labels = ['binary separation', 'disk interaction', 'tertiary separation',
              'sink radius', 'mergers']
leg_styles = [dict(color=BLACK, lw=1.4), dict(color=RED, lw=1.4), dict(color=GREEN, lw=1.4),
              dict(color=BLUE, lw=1.8, ls=(0, (2, 1.5))), dict(color=GREY, lw=1.8)]
leg_right = [1177, 1180, 1175, 1185, 1187]
leg_y = [1322, 1347, 1372, 1397, 1422]
for lab, st, xr, yy in zip(leg_labels, leg_styles, leg_right, leg_y):
    fy = (1459 - yy) / 161.3
    leg.text((xr - 1038) / 231, fy, lab, transform=leg.transAxes,
             ha='right', va='center', fontsize=13)
    leg.plot([0.749, 0.887], [fy, fy], transform=leg.transAxes, **st)

for r in range(9):
    yc = 1 - (7 + 161.3 * (r + 0.5)) / H
    fig.text(27 / W, yc, r'log a$_{\rm sep}$ [au]', rotation=90, ha='center', va='center', fontsize=19)
    fig.text(1312 / W, yc, row_ids[r], rotation=90, ha='center', va='center', fontsize=25)
for c in range(5):
    fig.text((113 + 231 * (c + 0.5)) / W, 1 - 1528 / H, 'time [Myr]', ha='center', va='center', fontsize=20)

fig.savefig('out.png', dpi=100)
